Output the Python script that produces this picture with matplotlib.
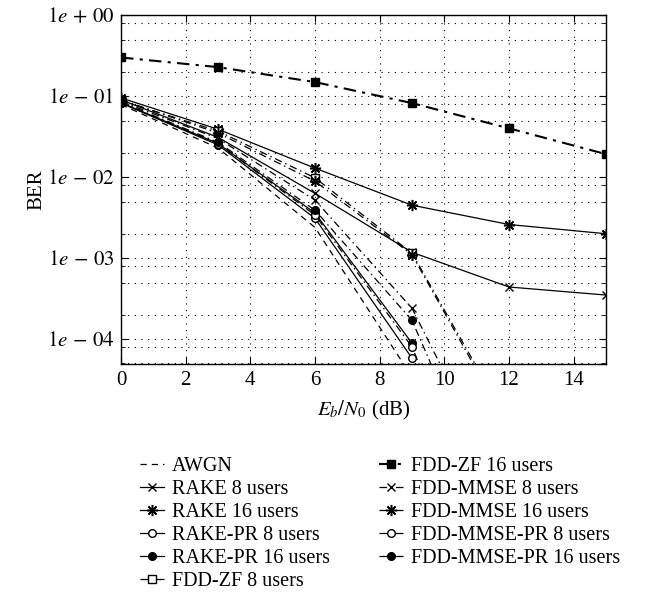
import math
import matplotlib
matplotlib.use('Agg')
import matplotlib.pyplot as plt
from matplotlib.ticker import LogLocator, FuncFormatter, NullFormatter

plt.rcParams['font.family'] = 'serif'
plt.rcParams['font.serif'] = ['Liberation Serif', 'DejaVu Serif']
plt.rcParams['mathtext.fontset'] = 'stix'

# Eb/N0 points (dB)
snr = [0, 3, 6, 9, 12, 15]

awgn = [0.0786, 0.0229, 0.00239, 3.4e-5]
rake8 = [0.090, 0.031, 0.0063, 0.00118, 0.00044, 0.00035]
rake16 = [0.095, 0.039, 0.0129, 0.0045, 0.0026, 0.0020]
rakepr8 = [0.082, 0.025, 0.0031, 5.8e-5]
rakepr16 = [0.083, 0.026, 0.0036, 8.9e-5]
fddzf8 = [0.088, 0.037, 0.0098, 0.00115, 9e-6]
fddzf16 = [0.30, 0.228, 0.149, 0.082, 0.040, 0.0192]
mmse8 = [0.086, 0.030, 0.0052, 0.00024, 1.0e-6]
mmse16 = [0.090, 0.035, 0.0089, 0.0011, 8e-6]
mmsepr8 = [0.083, 0.026, 0.0034, 8.0e-5, 1e-7]
mmsepr16 = [0.084, 0.027, 0.0039, 0.00017, 3e-7]

ast = (8, 2, 0)
dd = (0, (6, 3, 1.2, 3))

fig = plt.figure(figsize=(6.45, 6.05), dpi=100)
ax = fig.add_axes([0.1876, 0.398, 0.752, 0.577])

kw = dict(color='black', lw=0.9, ms=5.5)
akw = dict(color='black', lw=0.9, ms=8, mew=1.1)
ax.plot(snr[:len(awgn)], awgn, ls='--', dashes=(5, 4), label='AWGN', **kw)
ax.plot(snr, rake8, ls='-', marker='x', label='RAKE 8 users', **kw)
ax.plot(snr, rake16, ls='-', marker=ast, label='RAKE 16 users', **akw)
ax.plot(snr[:4], rakepr8, ls='-', marker='o', mfc='white', label='RAKE-PR 8 users', **kw)
ax.plot(snr[:4], rakepr16, ls='-', marker='o', label='RAKE-PR 16 users', **kw)
ax.plot(snr[:len(fddzf8)], fddzf8, ls=dd, marker='s', mfc='white', label='FDD-ZF 8 users', **kw)
ax.plot(snr, fddzf16, ls=(0, (6, 3, 1.5, 3)), marker='s', color='black', lw=1.5, ms=6,
        label='FDD-ZF 16 users')
ax.plot(snr[:len(mmse8)], mmse8, ls=dd, marker='x', label='FDD-MMSE 8 users', **kw)
ax.plot(snr[:len(mmse16)], mmse16, ls=dd, marker=ast, label='FDD-MMSE 16 users', **akw)
ax.plot(snr[:len(mmsepr8)], mmsepr8, ls=dd, marker='o', mfc='white', label='FDD-MMSE-PR 8 users', **kw)
ax.plot(snr[:len(mmsepr16)], mmsepr16, ls=dd, marker='o', label='FDD-MMSE-PR 16 users', **kw)

ax.set_yscale('log')
ax.set_xlim(0, 15)
ax.set_ylim(4.9e-5, 1)
ax.set_xticks([0, 2, 4, 6, 8, 10, 12, 14])
ax.yaxis.set_major_locator(LogLocator(base=10, numticks=10))
ax.yaxis.set_minor_locator(LogLocator(base=10, subs=[2, 5, 8], numticks=10))
ax.yaxis.set_minor_formatter(NullFormatter())


def fmt(v, p):
    e = int(round(math.log10(v)))
    return r'$1e\,%s\,%02d$' % ('+' if e >= 0 else '-', abs(e))


ax.yaxis.set_major_formatter(FuncFormatter(fmt))
ax.tick_params(which='both', direction='in', top=True, right=True, labelsize=15)
ax.tick_params(which='major', length=5, pad=5)
ax.tick_params(which='minor', length=3)
ax.grid(True, which='major', ls=(0, (1, 5)), color='black', lw=0.8)
ax.grid(True, which='minor', axis='y', ls=(0, (1, 5)), color='black', lw=0.8)
for s in ax.spines.values():
    s.set_linewidth(1.0)

ax.set_xlabel(r'$E_b/N_0$ (dB)', fontsize=15, labelpad=6)
ax.set_ylabel('BER', fontsize=15, labelpad=0)

fig.legend(loc='upper left', bbox_to_anchor=(0.204, 0.258), ncol=2, frameon=False,
           fontsize=14.5, handlelength=1.2, columnspacing=2.45, labelspacing=0.19,
           handletextpad=0.4, borderaxespad=0)

fig.savefig('out.png', dpi=100)
